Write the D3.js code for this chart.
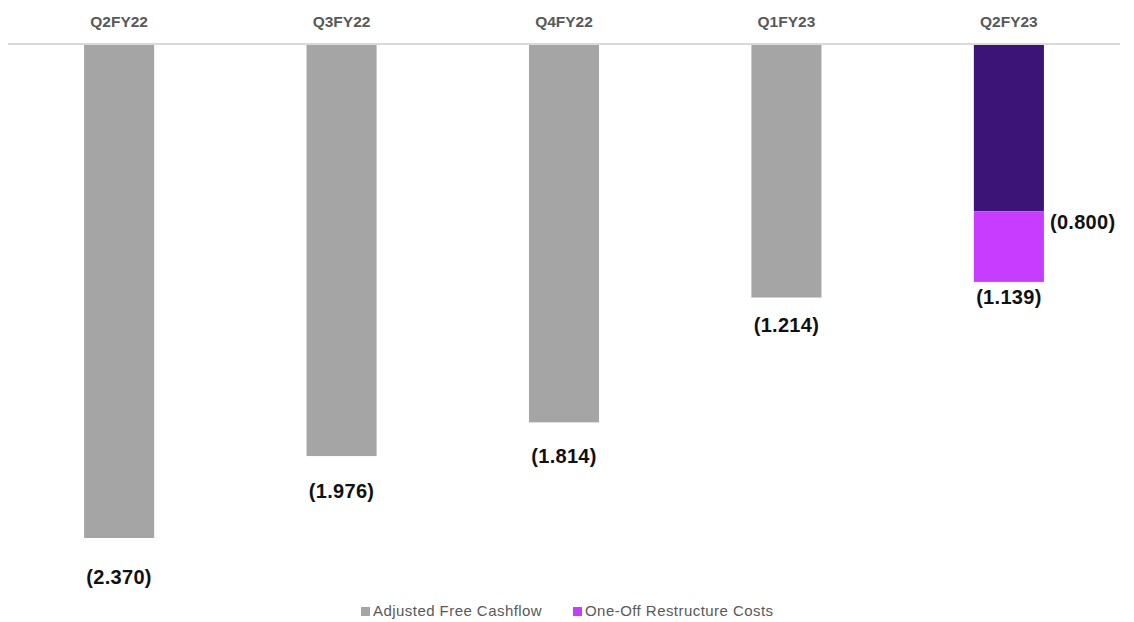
<!DOCTYPE html>
<html>
<head>
    <title>Adjusted Free Cashflow</title>
    <script src="https://d3js.org/d3.v7.min.js"></script>
    <style>
        body { margin: 0; background: #fff; }
        text { font-family: "Liberation Sans", Arial, sans-serif; }
    </style>
</head>
<body>
<div id="chart"></div>
<script>
    // data
    let quarters = ["Q2FY22", "Q3FY22", "Q4FY22", "Q1FY23", "Q2FY23"];
    let adjustedFcf = [-2.370, -1.976, -1.814, -1.214, -0.800];
    let oneOffCosts = [0, 0, 0, 0, -0.339];
    let totalLabels = ["(2.370)", "(1.976)", "(1.814)", "(1.214)", "(1.139)"];
    let innerLabels = [null, null, null, null, "(0.800)"];
    let legendNames = ["Adjusted Free Cashflow", "One-Off Restructure Costs"];

    let width = 1134,
        height = 622;

    let svg = d3.select("#chart")
        .append("svg")
        .attr("width", width)
        .attr("height", height);

    let x = d3.scaleBand()
        .domain(quarters)
        .range([8, 1120])
        .paddingInner(0.685)
        .paddingOuter(0.342);

    let y = d3.scaleLinear()
        .domain([0, -2.370])
        .range([45, 538]);

    let grey = "#a5a5a5",
        darkPurple = "#3c1478",
        magenta = "#c83cff";

    // top category labels
    svg.append("g")
        .selectAll("text")
        .data(quarters)
        .enter()
        .append("text")
        .attr("x", d => x(d) + x.bandwidth() / 2)
        .attr("y", 27)
        .attr("text-anchor", "middle")
        .style("font-size", "15.5px")
        .style("font-weight", "bold")
        .style("fill", "#595959")
        .text(d => d);

    // main bars (last one highlighted)
    svg.append("g")
        .selectAll("rect")
        .data(quarters)
        .enter()
        .append("rect")
        .attr("x", d => x(d))
        .attr("y", y(0))
        .attr("width", x.bandwidth())
        .attr("height", (d, i) => y(adjustedFcf[i]) - y(0))
        .attr("fill", (d, i) => i === quarters.length - 1 ? darkPurple : grey);

    // one-off costs stacked below
    svg.append("g")
        .selectAll("rect")
        .data(quarters)
        .enter()
        .append("rect")
        .attr("x", d => x(d))
        .attr("y", (d, i) => y(adjustedFcf[i]))
        .attr("width", x.bandwidth())
        .attr("height", (d, i) => y(adjustedFcf[i] + oneOffCosts[i]) - y(adjustedFcf[i]))
        .attr("fill", magenta);

    // baseline
    svg.append("line")
        .attr("x1", 8)
        .attr("x2", 1120)
        .attr("y1", y(0) - 1)
        .attr("y2", y(0) - 1)
        .style("stroke", "#d9d9d9")
        .style("stroke-width", 2);

    // total labels under each bar
    svg.append("g")
        .selectAll("text")
        .data(quarters)
        .enter()
        .append("text")
        .attr("x", d => x(d) + x.bandwidth() / 2)
        .attr("y", (d, i) => {
            let bottom = y(adjustedFcf[i] + oneOffCosts[i]);
            let off = oneOffCosts[i] !== 0 ? 15 : 16 + 0.046 * (bottom - y(0));
            return bottom + off + 7;
        })
        .attr("text-anchor", "middle")
        .style("font-size", "20px")
        .style("font-weight", "bold")
        .style("letter-spacing", "0.3px")
        .style("fill", "#111")
        .text((d, i) => totalLabels[i]);

    // label next to the highlighted segment
    svg.append("g")
        .selectAll("text")
        .data(quarters.filter((d, i) => innerLabels[i]))
        .enter()
        .append("text")
        .attr("x", d => x(d) + x.bandwidth() + 6)
        .attr("y", d => y(adjustedFcf[quarters.indexOf(d)]) + 18)
        .style("font-size", "20px")
        .style("font-weight", "bold")
        .style("letter-spacing", "0.3px")
        .style("fill", "#111")
        .text(d => innerLabels[quarters.indexOf(d)]);

    // legend
    let legendX = [361, 573];
    let legendColors = [grey, magenta];
    let legend = svg.append("g")
        .selectAll("g")
        .data(legendNames)
        .enter()
        .append("g")
        .attr("transform", (d, i) => `translate(${legendX[i]}, 607)`);

    legend.append("rect")
        .attr("width", 9)
        .attr("height", 9)
        .attr("fill", (d, i) => legendColors[i]);

    legend.append("text")
        .attr("x", 12)
        .attr("y", 9)
        .style("font-size", "15px")
        .style("letter-spacing", "0.45px")
        .style("fill", "#595959")
        .text(d => d);
</script>
</body>
</html>
